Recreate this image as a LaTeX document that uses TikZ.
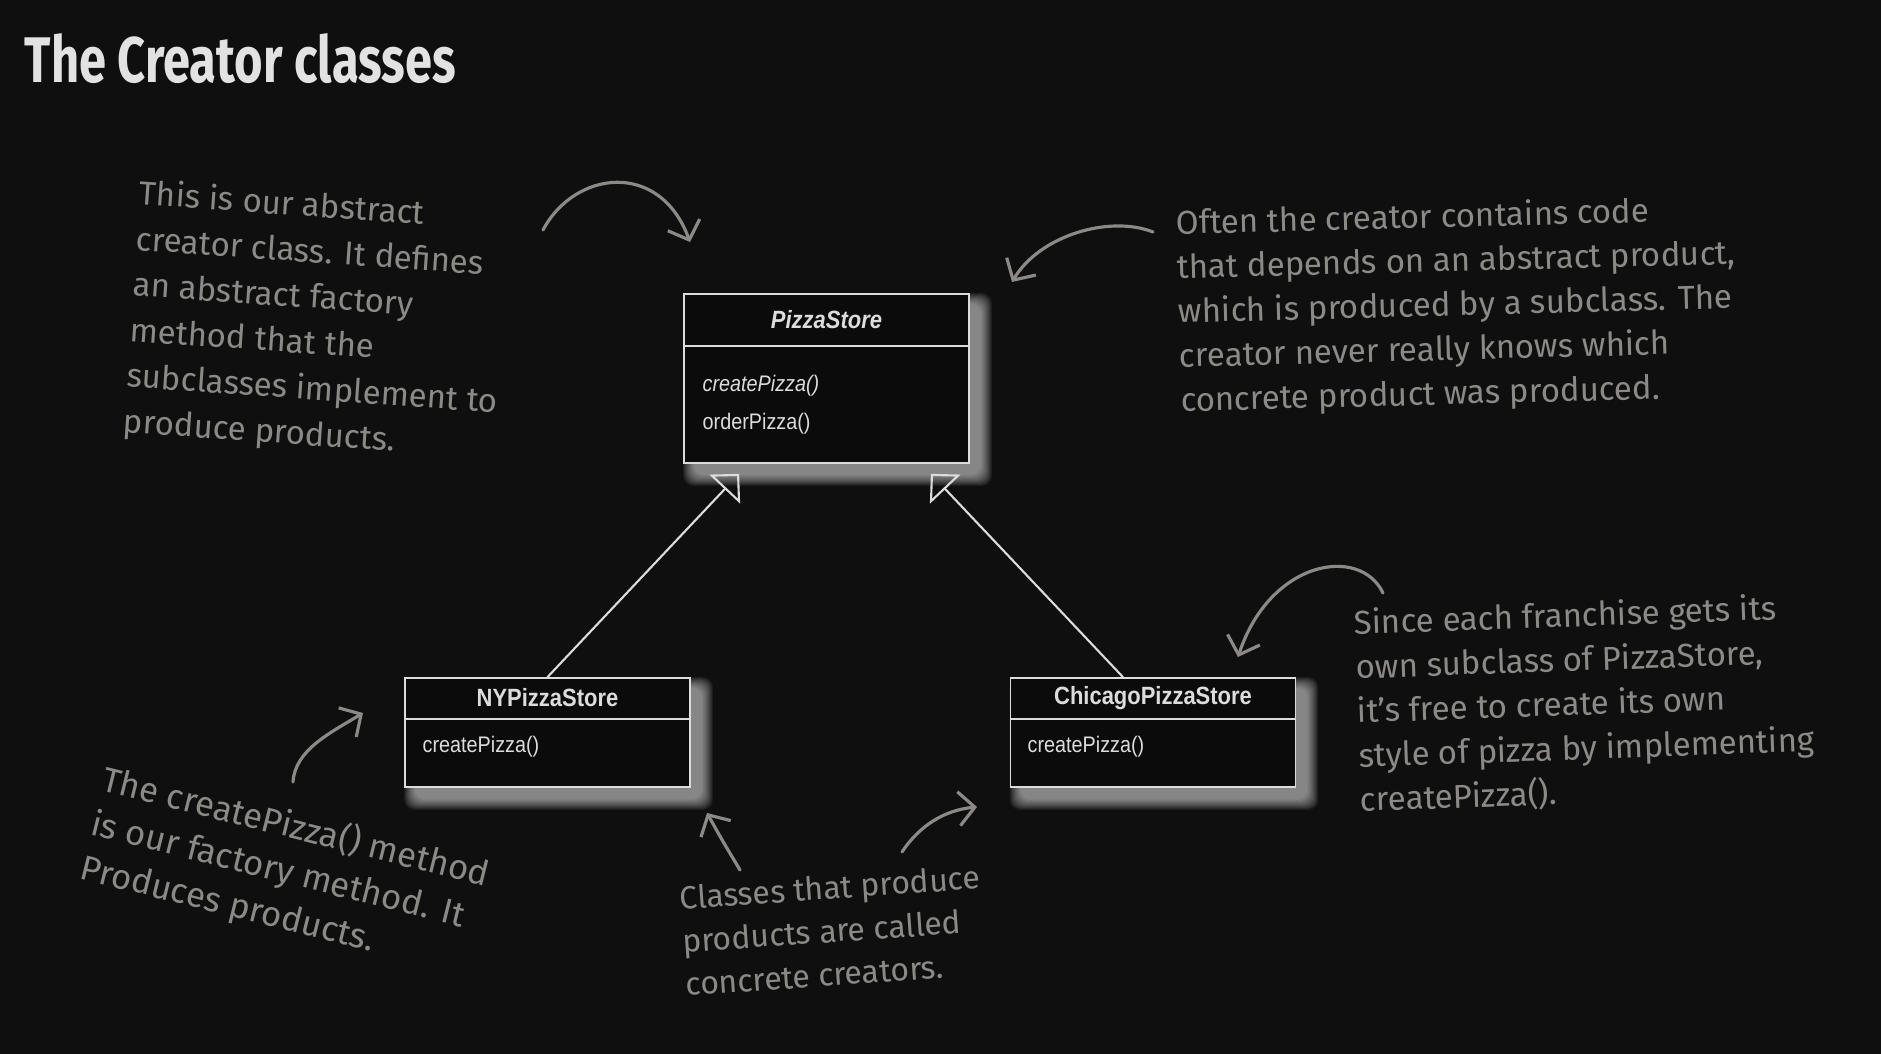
\documentclass[tikz,border=0pt]{standalone}
\usepackage{fontspec}
\newfontfamily\umlfont[FakeStretch=0.88]{Liberation Sans}
\newfontfamily\notefont{Fira Sans}
\usetikzlibrary{arrows.meta,backgrounds}
\definecolor{board}{HTML}{0F0F0F}
\definecolor{boxfill}{HTML}{0B0B0B}
\definecolor{umlgray}{HTML}{DCDCDC}
\definecolor{chalk}{HTML}{8C8A86}
\definecolor{titlegray}{HTML}{E2E2E2}
\newcommand{\glow}[1]{%
  \foreach \g in {0,...,11}
    \fill[white,opacity=0.06,rounded corners=1mm]
      ([shift={(0.11-0.01*\g,-0.11+0.01*\g)}]#1.north west) rectangle
      ([shift={(0.11+0.01*\g,-0.11-0.01*\g)}]#1.south east);}

\begin{document}
\begin{tikzpicture}[
  classbox/.style={draw=umlgray,fill=boxfill,line width=0.5pt,inner sep=0pt,minimum width=2.85cm},
  classname/.style={text=umlgray,font=\umlfont\bfseries\fontsize{7.1}{8}\selectfont,inner sep=0pt},
  member/.style={text=umlgray,font=\umlfont\fontsize{6.4}{7}\selectfont,inner sep=0pt,anchor=west},
  inherit/.style={draw=umlgray,line width=0.6pt,-{Triangle[open,length=0.21cm,width=0.42cm]}},
  note/.style={text=chalk,font=\notefont\fontsize{9.4}{12.6}\selectfont,align=left,inner sep=0pt,anchor=north west},
  scribble/.style={draw=chalk,line width=0.9pt,line cap=round,-{Straight Barb[length=0.16cm,width=0.34cm]}}]
\useasboundingbox (0,0) rectangle (18.81,10.54);

\node[anchor=base west,text=titlegray,font=\notefont\bfseries\fontsize{13.9}{17}\selectfont,yscale=1.32,inner sep=0pt] (title) at (0.24,9.71) {The Creator classes};

\node[classbox,minimum height=1.69cm] (ps) at (8.265,6.755) {};
\node[classname] (pstitle) at (8.265,7.34) {\itshape PizzaStore};
\draw[umlgray,line width=0.5pt] (ps.west |- 0,7.08) -- (ps.east |- 0,7.08);
\node[member] (pscreate) at (7.02,6.68) {\itshape createPizza()};
\node[member] (psorder) at (7.02,6.30) {orderPizza()};

\node[classbox,minimum height=1.09cm] (ny) at (5.475,3.215) {};
\node[classname] (nytitle) at (5.475,3.56) {NYPizzaStore};
\draw[umlgray,line width=0.5pt] (ny.west |- 0,3.35) -- (ny.east |- 0,3.35);
\node[member] (nycreate) at (4.22,3.07) {createPizza()};

\node[classbox,minimum height=1.09cm] (chi) at (11.53,3.215) {};
\node[classname] (chititle) at (11.53,3.56) {ChicagoPizzaStore};
\draw[umlgray,line width=0.5pt] (chi.west |- 0,3.35) -- (chi.east |- 0,3.35);
\node[member] (chicreate) at (10.27,3.07) {createPizza()};

\draw[inherit] (ny.north) -- ([shift={(0.56,-0.10)}]ps.south west);
\draw[inherit] ([xshift=-0.30cm]chi.north) -- ([shift={(-0.39,-0.10)}]ps.south east);

\node[note,rotate=-4,font=\notefont\fontsize{9.4}{13}\selectfont] (abstractnote) at (1.40,8.76) {This is our abstract\\creator class. It defines\\an abstract factory\\method that the\\subclasses implement to\\produce products.};
\node[note,rotate=1.5] (dependnote) at (11.75,8.46) {Often the creator contains code\\that depends on an abstract product,\\which is produced by a subclass. The\\creator never really knows which\\concrete product was produced.};
\node[note,rotate=2] (franchisenote) at (13.53,4.46) {Since each franchise gets its\\own subclass of PizzaStore,\\it’s free to create its own\\style of pizza by implementing\\createPizza().};
\node[note,rotate=-14,font=\notefont\fontsize{9.9}{12.9}\selectfont] (factorynote) at (1.07,2.93) {The createPizza() method\\is our factory method. It\\Produces products.};
\node[note,rotate=4,font=\notefont\fontsize{9.1}{12.3}\selectfont] (concretenote) at (6.78,1.69) {Classes that produce\\products are called\\concrete creators.};

\coordinate (a1) at (5.43,8.24); \coordinate (b1) at (6.90,8.12);
\coordinate (a2) at (11.53,8.22); \coordinate (b2) at (10.12,7.72);
\coordinate (a3) at (13.83,4.61); \coordinate (b3) at (12.38,3.97);
\coordinate (a4) at (2.93,2.72); \coordinate (b4) at (3.63,3.41);
\coordinate (a5) at (7.40,1.84); \coordinate (b5) at (7.07,2.41);
\coordinate (a6) at (9.02,2.02); \coordinate (b6) at (9.77,2.47);
\draw[scribble] (a1) .. controls (5.75,8.84) and (6.60,8.94) .. (b1);
\draw[scribble] (a2) .. controls (11.10,8.39) and (10.40,8.19) .. (b2);
\draw[scribble] (a3) .. controls (13.60,5.09) and (12.70,4.94) .. (b3);
\draw[scribble] (a4) .. controls (2.95,3.04) and (3.30,3.21) .. (b4);
\draw[scribble] (a5) .. controls (7.22,2.14) .. (b5);
\draw[scribble] (a6) .. controls (9.20,2.29) and (9.45,2.44) .. (b6);

\begin{scope}[on background layer]
\fill[board] (0,0) rectangle (18.81,10.54);
\glow{ps} \glow{ny} \glow{chi}
\end{scope}
\end{tikzpicture}
\end{document}
